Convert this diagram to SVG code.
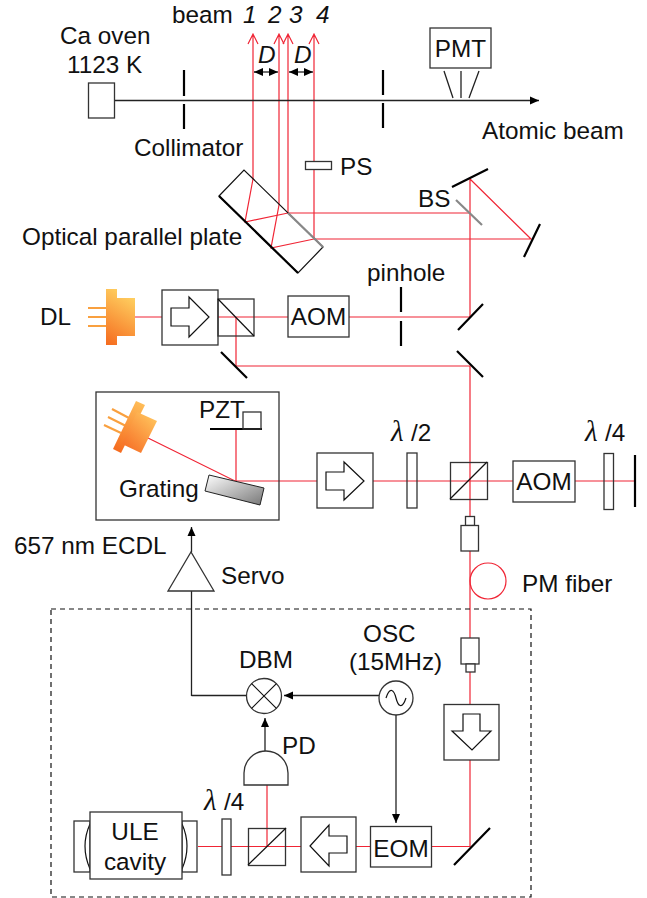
<svg xmlns="http://www.w3.org/2000/svg" width="647" height="898" viewBox="0 0 647 898">
<style>
text{font-family:"Liberation Sans",Arial,sans-serif;font-size:24.3px;fill:#111}
.i{font-style:italic}
.m{text-anchor:middle}
.l{font-family:"Liberation Serif",serif;font-style:italic;font-size:29px}
.b{fill:#fff;stroke:#333;stroke-width:1.3}
.h{fill:none;stroke:#333;stroke-width:1.3}
.n{fill:none;stroke:#111;stroke-width:1.2}
.t{fill:none;stroke:#000;stroke-width:2.2}
.g{fill:none;stroke:#888;stroke-width:2.2}
.o{fill:none;stroke:#f9a03f;stroke-width:2.2}
#rays path,#rays circle{fill:none;stroke:#f02535;stroke-width:1.2}
#wires path{fill:none;stroke:#222;stroke-width:1.3}
</style>
<defs>
<linearGradient id="lg" gradientUnits="userSpaceOnUse" x1="135" y1="298" x2="106" y2="345"><stop offset="0" stop-color="#ffd060"/><stop offset="1" stop-color="#f56a1e"/></linearGradient>
<linearGradient id="lg2" gradientUnits="userSpaceOnUse" x1="145" y1="403" x2="117" y2="452"><stop offset="0" stop-color="#ffc05a"/><stop offset="1" stop-color="#f56a1e"/></linearGradient>
<linearGradient id="lg3" gradientUnits="userSpaceOnUse" x1="157" y1="421" x2="130" y2="450"><stop offset="0" stop-color="#ffc05a"/><stop offset="1" stop-color="#f7752a"/></linearGradient>
<linearGradient id="gg" x1="0" y1="0" x2="1" y2="1"><stop offset="0" stop-color="#fff"/><stop offset="1" stop-color="#777"/></linearGradient>
<marker id="ah" markerWidth="10" markerHeight="10" refX="9" refY="5" orient="auto-start-reverse" markerUnits="userSpaceOnUse"><path d="M0,1 L9,5 L0,9 Z" fill="#000"/></marker>
</defs>

<g id="rays">
<path d="M253,179V34M248,44L253,34L258,44"/>
<path d="M279,205V34M274,44L279,34L284,44"/>
<path d="M288,213V34M283,44L288,34L293,44"/>
<path d="M314,239V34M309,44L314,34L319,44"/>
<path d="M253,179L245,222L288,213H470"/>
<path d="M279,205L271,248L314,239H531L470,179V317H349"/>
<path d="M288,317H131"/>
<path d="M236,317V366H470"/>
<path d="M470,366V846.500H431"/>
<path d="M370,846.500H356M301,846.500H198"/>
<path d="M267,846V785"/>
<path d="M148,438L235,481H317M236,481V429"/>
<path d="M373,481H513M575,481H635"/>
<circle cx="488" cy="581" r="18"/>
</g>

<g id="wires">
<path d="M114.500,100.500H539" marker-end="url(#ah)"/>
<path d="M444,71L453,98M461,71V98M479,71L469,98"/>
<path d="M254,72H278" marker-start="url(#ah)" marker-end="url(#ah)"/>
<path d="M289,72H313" marker-start="url(#ah)" marker-end="url(#ah)"/>
<path d="M191.500,696V591"/>
<path d="M191.500,552V527" marker-end="url(#ah)"/>
<path d="M191.500,695.500H246.500"/>
<path d="M379,695.500H284" marker-end="url(#ah)"/>
<path d="M265,751V718" marker-end="url(#ah)" stroke-width="1.6"/>
<path d="M396,715V823" marker-end="url(#ah)"/>
</g>

<g id="oven"><rect class="b" x="88.500" y="83" width="26" height="35"/><text x="60" y="44">Ca oven</text><text x="67" y="73">1123 K</text></g>
<g id="beam-labels"><text x="172" y="23">beam</text><text class="i" x="243" y="23">1</text><text class="i" x="268" y="23">2</text><text class="i" x="289" y="23">3</text><text class="i" x="316" y="23">4</text><text class="i" x="258" y="63">D</text><text class="i" x="294" y="63">D</text></g>
<g id="collimator"><path class="t" d="M184,70V96M184,104V129M383,70V95M383,103V128"/><text x="134" y="156">Collimator</text></g>
<g id="pmt"><rect class="b" x="430" y="28" width="61" height="40"/><text class="m" x="460.500" y="57">PMT</text></g>
<text x="482" y="139">Atomic beam</text>
<g id="ps"><rect class="b" x="305.500" y="161.500" width="26" height="8"/><text x="340" y="175">PS</text></g>
<g id="plate"><path class="n" d="M219,196L244,170L323,247L298,273Z"/><path class="t" d="M219,196L298,273"/><path class="g" d="M288,213L323,247" stroke-width="1.6"/><text x="22" y="245">Optical parallel plate</text></g>
<g id="bs"><path class="g" d="M456,200L482,225"/><text x="418" y="207">BS</text></g>
<g id="mirrors"><path class="t" d="M452,187L488,169M540,224L524,257M458,330L483,304M457,351L483,377M221,352L247,378M635,455V507M454,865L490,828"/></g>

<g id="dl"><path class="o" d="M88,308H106M88,317H106M88,326H106"/><rect x="106" y="289" width="11" height="56" fill="url(#lg)"/><rect x="115" y="298" width="20" height="38" fill="url(#lg)"/><text x="40" y="325">DL</text></g>
<g id="iso1"><rect class="b" x="162" y="290" width="56" height="55"/><path class="n" d="M171,308H189V297L209,317L189,337V326H171Z"/></g>
<g id="pbs1"><rect class="h" x="218" y="299" width="36" height="37"/><path class="n" d="M218,299L254,336"/></g>
<g id="aom1"><rect class="b" x="288" y="296" width="61" height="41"/><text class="m" x="318.500" y="325">AOM</text></g>
<g id="pinhole"><path class="t" d="M401,287V312M401,321V346"/><text x="367" y="281">pinhole</text></g>

<g id="ecdl"><rect class="h" x="96" y="392" width="183" height="128"/>
<path class="o" d="M112,409L129,418M108,417L126,426M104,425L121,433"/>
<path d="M136,401L145,405L121,453L113,449Z" fill="url(#lg2)"/>
<path d="M137,412L157,421L141,453L122,444Z" fill="url(#lg3)"/>
<path class="t" d="M210,429H262"/><rect class="h" x="243" y="412" width="18" height="17"/>
<text x="199" y="418">PZT</text>
<path d="M209,475L264,488L260,505L205,491Z" fill="url(#gg)" stroke="#222" stroke-width="1"/>
<text x="119" y="497">Grating</text></g>
<text x="14" y="554">657 nm ECDL</text>
<g id="servo"><path class="b" d="M168,591L191,552L214,591Z"/><text x="221" y="584">Servo</text></g>

<g id="iso2"><rect class="b" x="317" y="453" width="56" height="55"/><path class="n" d="M326,472H344V462L364,481L344,500V490H326Z"/></g>
<g id="hwp"><rect class="h" x="407" y="453" width="10" height="55"/><text class="l" x="391" y="441">λ</text><text x="411" y="441">/2</text></g>
<g id="pbs2"><rect class="h" x="450.500" y="462.500" width="37" height="37"/><path class="n" d="M450,499L487,462"/></g>
<g id="aom2"><rect class="b" x="513" y="461" width="62" height="41"/><text class="m" x="544" y="490">AOM</text></g>
<g id="qwp1"><rect class="h" x="604" y="453.500" width="9.500" height="56"/><text class="l" x="585" y="441">λ</text><text x="605" y="441">/4</text></g>
<g id="fiber1"><rect class="b" x="465.500" y="516.500" width="9" height="9"/><rect class="b" x="461" y="525.500" width="17.500" height="25.500"/></g>
<text x="522" y="592">PM fiber</text>
<g id="fiber2"><rect class="b" x="461" y="638" width="18" height="26"/><rect class="b" x="466" y="664" width="9" height="8"/></g>
<g id="iso3"><rect class="b" x="444" y="704.500" width="55" height="55.500"/><path class="n" d="M463,714H480V731H491L472,750L452,731H463Z"/></g>

<rect id="box" x="51" y="609" width="480" height="288" fill="none" stroke="#111" stroke-width="1.2" stroke-dasharray="5 4"/>
<g id="dbm"><circle class="b" cx="264" cy="696" r="17.500"/><path class="n" d="M251.600,683.600L276.400,708.400M276.400,683.600L251.600,708.400"/><text x="239" y="668">DBM</text></g>
<g id="osc"><circle class="b" cx="396" cy="698" r="17"/><path class="n" d="M386,698C390,686 394,690 396,698S402,710 406,698"/><text x="363" y="642">OSC</text><text x="349" y="670">(15MHz)</text></g>
<g id="pd"><path class="b" d="M244,785V773A22,22 0 0 1 288,773V785Z"/><text x="282" y="754">PD</text></g>
<g id="eom"><rect class="b" x="370.500" y="826.500" width="61" height="40.500"/><text class="m" x="401" y="857">EOM</text></g>
<g id="iso4"><rect class="b" x="301" y="817" width="55" height="55"/><path class="n" d="M310,846L329,825V836H347V853H329V866Z"/></g>
<g id="pbs3"><rect class="h" x="248.500" y="828.500" width="37" height="37"/><path class="n" d="M248,865L286,828"/></g>
<g id="qwp2"><rect class="b" x="222" y="819" width="9" height="56"/><text class="l" x="204" y="810">λ</text><text x="224" y="810">/4</text></g>
<g id="ule"><rect class="b" x="74" y="821" width="16" height="51"/><rect class="b" x="182" y="821" width="15" height="51"/><path class="n" d="M90,824Q80,846 90,869M182,824Q192,846 182,869"/><rect class="b" x="90" y="812" width="92" height="67"/><text class="m" x="135" y="840">ULE</text><text class="m" x="135" y="870">cavity</text></g>
</svg>
